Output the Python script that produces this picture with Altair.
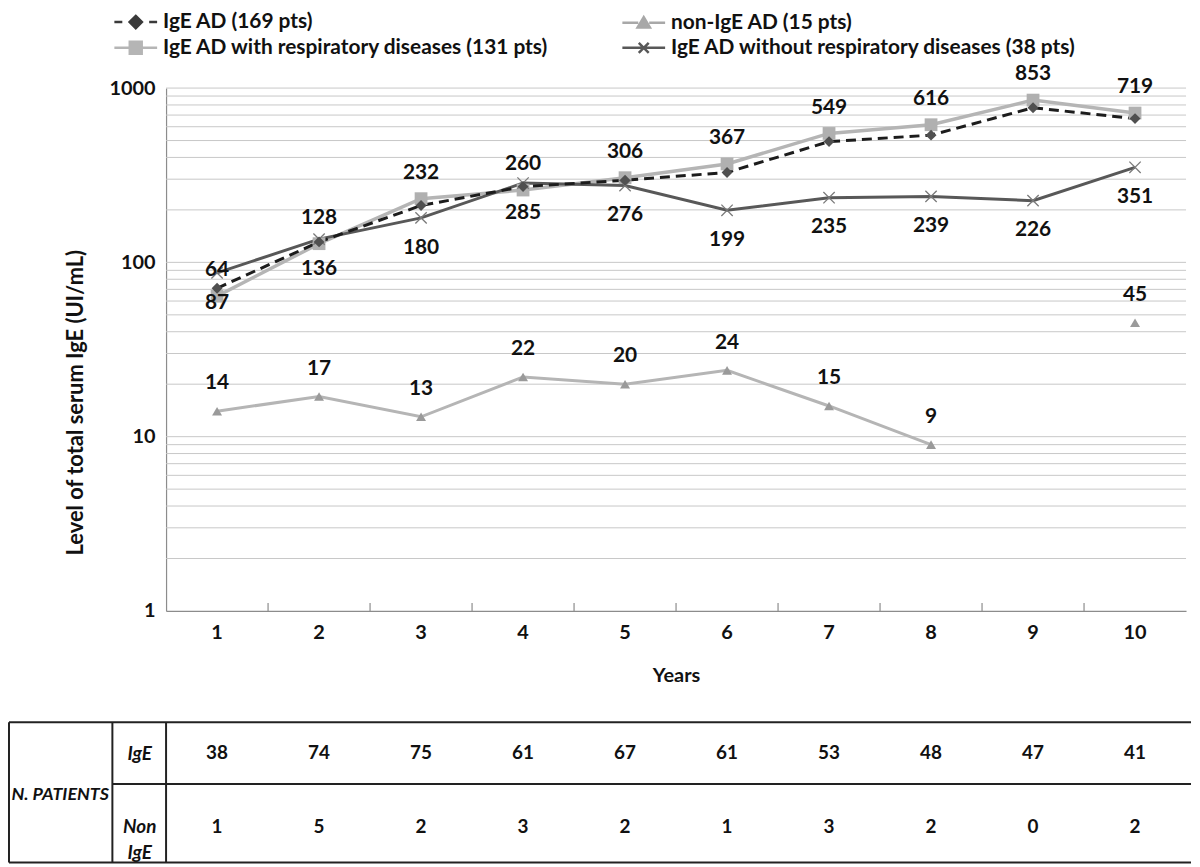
import altair as alt
import pandas as pd

# ---------------- data ----------------
years = [1, 2, 3, 4, 5, 6, 7, 8, 9, 10]
series_names = [
    "IgE AD (169 pts)",
    "non-IgE AD (15 pts)",
    "IgE AD with respiratory diseases (131 pts)",
    "IgE AD without respiratory diseases (38 pts)",
]
ige_ad = [71, 131, 212, 272, 296, 328, 493, 537, 771, 668]
non_ige_ad = [14, 17, 13, 22, 20, 24, 15, 9, None, 45]
with_resp = [64, 128, 232, 260, 306, 367, 549, 616, 853, 719]
without_resp = [87, 136, 180, 285, 276, 199, 235, 239, 226, 351]

table_rows = ["IgE", "Non IgE"]
n_ige = [38, 74, 75, 61, 67, 61, 53, 48, 47, 41]
n_non_ige = [1, 5, 2, 3, 2, 1, 3, 2, 0, 2]

y_labels = [1, 10, 100, 1000]
grid_values = [2, 3, 4, 5, 6, 7, 8, 9, 10, 20, 30, 40, 50, 60, 70, 80, 90,
               100, 200, 300, 400, 500, 600, 700, 800, 900, 1000]

# ---------------- style ----------------
FONT = "Lato"
W, H = 1026, 526
TH = 141
TXT = "#111111"
AX = "#8c8c8c"


def series_df(vals, name):
    rows, seg = [], 0
    for yr, v in zip(years, vals):
        if v is None:
            seg += 1
            continue
        rows.append({"year": yr, "value": v, "series": name, "seg": seg})
    return pd.DataFrame(rows)


x_scale = alt.Scale(type="band", domain=years, paddingInner=0, paddingOuter=0)
x_axis = alt.Axis(title="Years", labelAngle=0, ticks=False, grid=False,
                  domainColor=AX, domainWidth=1.2,
                  labelFont=FONT, labelFontSize=20, labelFontWeight="bold",
                  labelColor=TXT, labelPadding=12,
                  titleFont=FONT, titleFontSize=20, titleFontWeight="bold",
                  titleColor=TXT, titlePadding=23)
y_scale = alt.Scale(type="log", domain=[1, 1000])
y_axis = alt.Axis(title="Level of total serum IgE (UI/mL)", values=y_labels,
                  format="d", ticks=False, grid=False,
                  domainColor=AX, domainWidth=1.2,
                  labelFont=FONT, labelFontSize=20, labelFontWeight="bold",
                  labelColor=TXT, labelPadding=11,
                  titleFont=FONT, titleFontSize=22, titleFontWeight="bold",
                  titleColor=TXT, titleX=-91, titleY=316, titleBaseline="middle",
                  titleAlign="center", titleAngle=270)


def X(bp=0.5):
    return alt.X("year:O", scale=x_scale, axis=x_axis, bandPosition=bp)


def Y():
    return alt.Y("value:Q", scale=y_scale, axis=y_axis)


grid = alt.Chart(pd.DataFrame({"value": grid_values})).mark_rule(
    color="#c8c8c8", strokeWidth=1).encode(y=Y())

ticks = alt.Chart(pd.DataFrame({"year": years[1:]})).mark_rule(
    color=AX, strokeWidth=1.2).encode(x=X(0), y=alt.value(H), y2=alt.value(H - 8))

d_ige = series_df(ige_ad, series_names[0])
d_non = series_df(non_ige_ad, series_names[1])
d_with = series_df(with_resp, series_names[2])
d_without = series_df(without_resp, series_names[3])

X_PATH = "M-1,-1L1,1M-1,1L1,-1"

line_with = alt.Chart(d_with).mark_line(color="#b5b5b5", strokeWidth=3.5).encode(x=X(), y=Y())
pts_with = alt.Chart(d_with).mark_point(shape="square", filled=True, size=165,
                                        color="#b0b0b0", opacity=1).encode(x=X(), y=Y())
line_without = alt.Chart(d_without).mark_line(color="#585858", strokeWidth=3).encode(x=X(), y=Y())
pts_without = alt.Chart(d_without).mark_point(shape=X_PATH, filled=False, size=130,
                                              color="#7a7a7a", strokeWidth=1.3,
                                              opacity=1).encode(x=X(), y=Y())
line_ige = alt.Chart(d_ige).mark_line(color="#1c1c1c", strokeWidth=3,
                                      strokeDash=[10, 6]).encode(x=X(), y=Y())
pts_ige = alt.Chart(d_ige).mark_point(shape="diamond", filled=True, size=120,
                                      color="#505050", opacity=1).encode(x=X(), y=Y())
line_non = alt.Chart(d_non).mark_line(color="#b5b5b5", strokeWidth=3).encode(
    x=X(), y=Y(), detail="seg:N")
pts_non = alt.Chart(d_non).mark_point(shape="triangle-up", filled=True, size=100,
                                      color="#9a9a9a", opacity=1).encode(x=X(), y=Y())


def labels(df, dy):
    return alt.Chart(df).mark_text(font=FONT, fontSize=21, fontWeight="bold",
                                   color=TXT, dy=dy).encode(
        x=X(), y=Y(), text="value:Q")


lab_with = labels(d_with, -26)
lab_without = labels(d_without, 30)
lab_non = labels(d_non, -28)

# legend (line + marker symbols as custom paths); order gives row-major reading
legend_order = [series_names[0], series_names[2], series_names[1], series_names[3]]
legend_paths = [
    "M-2.15,0H-1.35M1.35,0H2.15M0,-0.62L0.62,0L0,0.62L-0.62,0Z",
    "M-2.15,0H-0.6M0.6,0H2.15M-0.6,-0.6H0.6V0.6H-0.6Z",
    "M-2.15,0H-0.55M0.55,0H2.15M0,-0.55L0.62,0.48L-0.62,0.48Z",
    "M-2.15,0H2.15M-0.5,-0.5L0.5,0.5M-0.5,0.5L0.5,-0.5",
]
legend_colors = ["#3a3a3a", "#b5b5b5", "#a8a8a8", "#585858"]
leg = alt.Legend(title=None, orient="none", legendX=-42, legendY=-78, columns=2,
                 columnPadding=68, rowPadding=3, padding=0,
                 labelFont=FONT, labelFontSize=21, labelFontWeight="bold",
                 labelColor=TXT, labelOffset=16, labelLimit=800,
                 symbolSize=400, symbolStrokeWidth=2.5, symbolOpacity=1)
legend_layer = alt.Chart(pd.DataFrame({"series": legend_order})).transform_filter(
    "false").mark_point(filled=True, size=400, opacity=1).encode(
    shape=alt.Shape("series:N", scale=alt.Scale(domain=legend_order, range=legend_paths), legend=leg),
    fill=alt.Fill("series:N", scale=alt.Scale(domain=legend_order, range=legend_colors), legend=leg),
    stroke=alt.Stroke("series:N", scale=alt.Scale(domain=legend_order, range=legend_colors), legend=leg),
)

main = alt.layer(
    grid, ticks,
    line_with, line_without, line_ige, line_non,
    pts_with, pts_without, pts_ige, pts_non,
    lab_with, lab_without, lab_non,
    legend_layer,
).properties(width=W, height=H)

# ---------------- table ----------------
table_df = pd.DataFrame({
    "year": years * 2,
    "row": [table_rows[0]] * len(years) + [table_rows[1]] * len(years),
    "count": n_ige + n_non_ige,
})
tx = alt.X("year:O", scale=x_scale, axis=None, bandPosition=0.5)
ty = alt.Y("row:N",
           scale=alt.Scale(type="point", domain=table_rows, range=[31, 105], padding=0),
           axis=alt.Axis(title="N. PATIENTS", titleAngle=0, titleX=-107, titleY=73,
                         titleAlign="center", titleBaseline="middle",
                         titleFont=FONT, titleFontSize=18, titleFontStyle="italic",
                         titleFontWeight="bold", titleColor=TXT,
                         labelExpr="split(datum.label, ' ')", labelAlign="center",
                         labelBaseline="middle", labelPadding=27,
                         labelFont=FONT, labelFontStyle="italic", labelFontWeight="bold",
                         labelFontSize=19, labelLineHeight=26, labelColor=TXT,
                         ticks=False, domain=False, grid=False))
cells = alt.Chart(table_df).mark_text(font=FONT, fontSize=19, fontWeight="bold",
                                      color=TXT).encode(x=tx, y=ty, text="count:Q")

one = pd.DataFrame({"k": [0]})
FR = dict(color="#222222", strokeWidth=2)


def hline(x0, x1, y):
    return alt.Chart(one).mark_rule(**FR).encode(
        x=alt.value(x0), x2=alt.value(x1), y=alt.value(y))


def vline(x, y0, y1):
    return alt.Chart(one).mark_rule(**FR).encode(
        x=alt.value(x), y=alt.value(y0), y2=alt.value(y1))


table = alt.layer(
    hline(-158, W + 5, 0), hline(-54, W + 5, 62), hline(-158, W + 5, TH),
    vline(-158, 0, TH), vline(-54, 0, TH), vline(0, 0, TH),
    cells,
).properties(width=W, height=TH)

chart = alt.vconcat(main, table, spacing=36).properties(
    padding={"left": 0, "top": 0, "right": 0, "bottom": 0}
).configure_view(stroke=None)

chart.save("out.html", embed_options={"renderer": "svg", "actions": False})
